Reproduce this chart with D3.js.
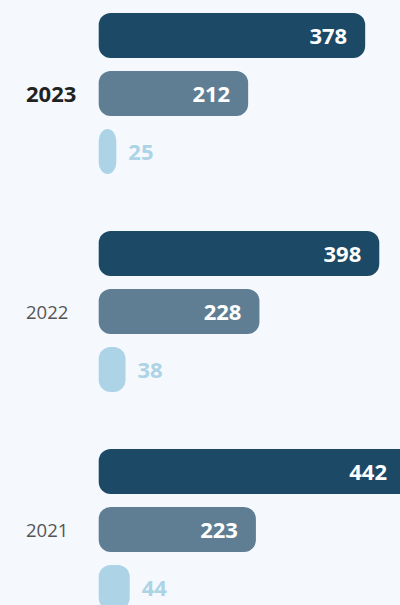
<!DOCTYPE html>
<html>
<head>
<meta charset="utf-8">
<script src="https://cdn.jsdelivr.net/npm/d3@7"></script>
<style>
    html, body { margin: 0; padding: 0; background: #f5f9fd; }
    svg { display: block; font-family: "Open Sans", "Noto Sans", sans-serif; }
</style>
</head>
<body>
<svg id="chart"></svg>
<script>
// Chart data
var years = ["2023", "2022", "2021"];
var series = ["a", "b", "c"];
var valuesA = [378, 398, 442];
var valuesB = [212, 228, 223];
var valuesC = [25, 38, 44];
var selectedYear = "2023";

var colors = {
    a: "#1c4966",
    b: "#5f7e93",
    c: "#acd3e6"
};

var width = 400, height = 605;

var svg = d3.select("#chart")
    .attr("width", width)
    .attr("height", height);

// Rows: one value per year and series
var rows = [];
years.forEach(function(y, i) {
    rows.push({ year: y, key: "a", value: valuesA[i] });
    rows.push({ year: y, key: "b", value: valuesB[i] });
    rows.push({ year: y, key: "c", value: valuesC[i] });
});

var x = d3.scaleLinear()
    .domain([0, 442])
    .range([98.7, 410.3]);

var y0 = d3.scaleBand()
    .domain(years)
    .range([13, 13 + 218 * years.length]);

var y1 = d3.scaleBand()
    .domain(series)
    .range([0, 161])
    .paddingInner(0.224);

function inside(d) { return x(d.value) - x(0) > 60; }

// Bars

svg.append("g")
    .selectAll("rect")
    .data(rows)
    .join("rect")
    .attr("x", x(0))
    .attr("y", function(d) { return y0(d.year) + y1(d.key); })
    .attr("width", function(d) { return x(d.value) - x(0); })
    .attr("height", y1.bandwidth())
    .attr("rx", 12)
    .attr("ry", 12)
    .attr("fill", function(d) { return colors[d.key]; });

// Value labels: inside when the bar is wide enough, outside otherwise

svg.append("g")
    .selectAll("text")
    .data(rows)
    .join("text")
    .attr("x", function(d) {
        if (inside(d)) return Math.min(x(d.value), width + 5) - 18;
        return x(d.value) + 12;
    })
    .attr("y", function(d) { return y0(d.year) + y1(d.key) + y1.bandwidth() / 2; })
    .attr("dy", "0.37em")
    .attr("text-anchor", function(d) { return inside(d) ? "end" : "start"; })
    .attr("font-size", 22)
    .attr("font-weight", 700)
    .attr("fill", function(d) { return inside(d) ? "#ffffff" : colors[d.key]; })
    .text(function(d) { return d.value; });

// Year labels

svg.append("g")
    .selectAll("text")
    .data(years)
    .join("text")
    .attr("x", 26)
    .attr("y", function(d) { return y0(d) + y1("b") + y1.bandwidth() / 2; })
    .attr("dy", "0.4em")
    .attr("font-size", function(d) { return d === selectedYear ? 22 : 18.5; })
    .attr("font-weight", function(d) { return d === selectedYear ? 700 : 400; })
    .attr("fill", function(d) { return d === selectedYear ? "#222222" : "#555555"; })
    .text(function(d) { return d; });
</script>
</body>
</html>
